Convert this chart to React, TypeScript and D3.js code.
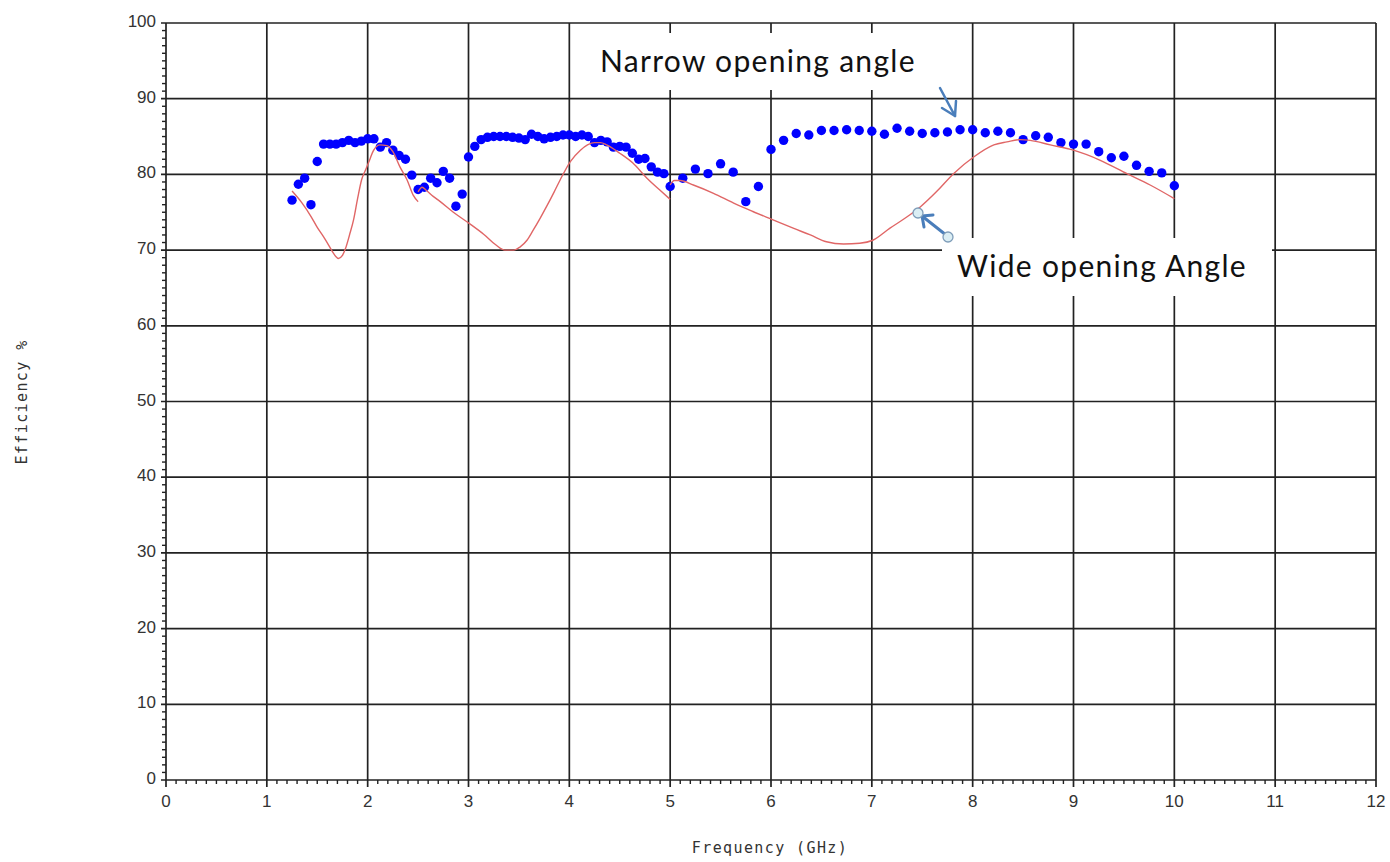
import React from "react";
import * as d3 from "d3";

// Measured efficiency, narrow opening angle (dots)
const narrowFreq = [
  1.25, 1.3125, 1.375, 1.4375, 1.5, 1.5625, 1.625, 1.6875, 1.75, 1.8125, 1.875, 1.9375,
  2.0, 2.0625, 2.125, 2.1875, 2.25, 2.3125, 2.375, 2.4375, 2.5, 2.5625, 2.625, 2.6875,
  2.75, 2.8125, 2.875, 2.9375, 3.0, 3.0625, 3.125, 3.1875, 3.25, 3.3125, 3.375, 3.4375,
  3.5, 3.5625, 3.625, 3.6875, 3.75, 3.8125, 3.875, 3.9375, 4.0, 4.0625, 4.125, 4.1875,
  4.25, 4.3125, 4.375, 4.4375, 4.5, 4.5625, 4.625, 4.6875, 4.75, 4.8125, 4.875, 4.9375,
  5.0, 5.125, 5.25, 5.375, 5.5, 5.625, 5.75, 5.875, 6.0, 6.125, 6.25, 6.375, 6.5, 6.625,
  6.75, 6.875, 7.0, 7.125, 7.25, 7.375, 7.5, 7.625, 7.75, 7.875, 8.0, 8.125, 8.25, 8.375,
  8.5, 8.625, 8.75, 8.875, 9.0, 9.125, 9.25, 9.375, 9.5, 9.625, 9.75, 9.875, 10.0,
];
const narrowEff = [
  76.6, 78.7, 79.5, 76.0, 81.7, 84.0, 84.0, 84.0, 84.2, 84.5, 84.2, 84.4,
  84.7, 84.7, 83.6, 84.2, 83.2, 82.5, 82.0, 79.9, 78.0, 78.3, 79.5, 78.9,
  80.4, 79.5, 75.8, 77.4, 82.3, 83.7, 84.6, 84.9, 85.0, 85.0, 85.0, 84.9,
  84.8, 84.6, 85.3, 85.0, 84.7, 84.9, 85.0, 85.2, 85.2, 85.0, 85.2, 85.0,
  84.2, 84.5, 84.3, 83.6, 83.7, 83.6, 82.8, 82.0, 82.1, 81.0, 80.3, 80.1,
  78.4, 79.5, 80.7, 80.1, 81.4, 80.3, 76.4, 78.4, 83.3, 84.5, 85.4, 85.2, 85.8, 85.8,
  85.9, 85.8, 85.7, 85.3, 86.1, 85.7, 85.4, 85.5, 85.6, 85.9, 85.9, 85.5, 85.7, 85.5,
  84.6, 85.1, 84.9, 84.2, 84.0, 84.0, 83.0, 82.2, 82.4, 81.2, 80.4, 80.2, 78.5,
];

// Wide opening angle (line), one trace per band
const wideBandAFreq = [1.25, 1.35, 1.44, 1.5, 1.56, 1.62, 1.66, 1.71, 1.75, 1.78, 1.82, 1.86, 1.9, 1.94, 1.98, 2.01, 2.06, 2.12, 2.19, 2.25, 2.32, 2.39, 2.45, 2.5];
const wideBandAEff = [77.8, 76.2, 74.4, 73.0, 71.8, 70.5, 69.6, 68.9, 69.3, 70.2, 72.0, 74.0, 76.8, 79.3, 80.6, 81.6, 83.2, 83.9, 83.8, 83.0, 81.0, 79.3, 77.3, 76.4];
const wideBandBFreq = [2.5, 2.54, 2.58, 2.65, 2.72, 2.85, 3.01, 3.15, 3.27, 3.36, 3.45, 3.51, 3.58, 3.64, 3.71, 3.78, 3.85, 3.91, 4.01, 4.11, 4.18, 4.25, 4.31, 4.37, 4.5, 4.63, 4.77, 4.9, 5.0];
const wideBandBEff = [77.7, 78.3, 77.9, 77.1, 76.4, 75.0, 73.5, 72.1, 70.7, 70.0, 70.0, 70.4, 71.3, 72.6, 74.2, 75.9, 77.7, 79.3, 81.7, 83.2, 83.9, 84.2, 84.2, 83.9, 82.8, 81.5, 79.5, 77.9, 76.7];
const wideBandCFreq = [5.0, 5.04, 5.1, 5.23, 5.43, 5.63, 5.82, 6.02, 6.22, 6.39, 6.55, 6.72, 6.88, 7.01, 7.18, 7.35, 7.48, 7.64, 7.81, 8.01, 8.21, 8.34, 8.47, 8.57, 8.77, 9.0, 9.26, 9.53, 9.76, 10.0];
const wideBandCEff = [78.6, 79.2, 79.2, 78.6, 77.5, 76.2, 75.1, 74.0, 72.9, 72.0, 71.1, 70.8, 70.9, 71.3, 72.9, 74.4, 75.7, 77.7, 80.1, 82.3, 83.9, 84.3, 84.6, 84.5, 83.9, 83.2, 81.9, 80.1, 78.6, 76.8];

const xTicks = [0, 1, 2, 3, 4, 5, 6, 7, 8, 9, 10, 11, 12];
const yTicks = [0, 10, 20, 30, 40, 50, 60, 70, 80, 90, 100];

const W = 1390;
const H = 862;
const x = d3.scaleLinear().domain([0, 12]).range([166, 1376]);
const y = d3.scaleLinear().domain([0, 100]).range([780, 23]);

const gridColor = "#222";
const tickFont = "'Liberation Sans', Arial, sans-serif";
const monoFont = "'DejaVu Sans Mono', monospace";
const noteFont = "Lato, 'Open Sans', sans-serif";
const arrowBlue = "#4a7ebb";

export default function App() {
  const line = d3
    .line<[number, number]>()
    .x((d) => x(d[0]))
    .y((d) => y(d[1]))
    .curve(d3.curveMonotoneX);

  const bands: [number[], number[]][] = [
    [wideBandAFreq, wideBandAEff],
    [wideBandBFreq, wideBandBEff],
    [wideBandCFreq, wideBandCEff],
  ];

  const yMinor = d3.range(0, 101).filter((v) => v % 10 !== 0);
  const xMinor = d3.range(0, 121).filter((v) => v % 10 !== 0).map((v) => v / 10);

  return (
    <svg
      width={W}
      height={H}
      style={{ position: "absolute", left: 0, top: 0, display: "block", background: "#fff" }}
    >
      {/* grid */}
      <g stroke={gridColor} strokeWidth={1.7}>
        {xTicks.map((t) => (
          <line key={"gx" + t} x1={x(t)} x2={x(t)} y1={y(100)} y2={y(0) + 7} />
        ))}
        {yTicks.map((t) => (
          <line key={"gy" + t} x1={x(0) - 5} x2={x(12)} y1={y(t)} y2={y(t)} />
        ))}
      </g>
      {/* minor ticks */}
      <g stroke={gridColor} strokeWidth={1.4}>
        {yMinor.map((v) => (
          <line key={"my" + v} x1={x(0) - 4} x2={x(0)} y1={y(v)} y2={y(v)} />
        ))}
        {xMinor.map((v) => (
          <line key={"mx" + v} x1={x(v)} x2={x(v)} y1={y(0)} y2={y(0) + 4} />
        ))}
      </g>
      {/* tick labels */}
      <g fontFamily={tickFont} fontSize={17} fill="#333">
        {yTicks.map((t) => (
          <text key={"ly" + t} x={x(0) - 10} y={y(t) + 4} textAnchor="end">
            {t}
          </text>
        ))}
        {xTicks.map((t) => (
          <text key={"lx" + t} x={x(t)} y={y(0) + 27} textAnchor="middle">
            {t}
          </text>
        ))}
      </g>
      {/* axis titles */}
      <text
        x={770}
        y={853}
        textAnchor="middle"
        fontFamily={monoFont}
        fontSize={15}
        letterSpacing={1.4}
        fill="#333"
      >
        Frequency (GHz)
      </text>
      <text
        transform="translate(27,402) rotate(-90)"
        textAnchor="middle"
        fontFamily={monoFont}
        fontSize={15}
        letterSpacing={1.4}
        fill="#333"
      >
        Efficiency %
      </text>

      {/* narrow opening angle points */}
      <g fill="#0000ff">
        {narrowFreq.map((f, i) => (
          <circle key={"p" + i} cx={x(f)} cy={y(narrowEff[i])} r={4.7} />
        ))}
      </g>

      {/* wide opening angle trace */}
      <g fill="none" stroke="#e06666" strokeWidth={1.4}>
        {bands.map(([fs, es], i) => (
          <path key={"b" + i} d={line(fs.map((f, j) => [f, es[j]] as [number, number])) || ""} />
        ))}
      </g>

      {/* annotations */}
      <rect x={588} y={33} width={377} height={57} fill="#fff" />
      <text x={600} y={72} fontFamily={noteFont} fontSize={30} letterSpacing={1.3} fill="#111">
        Narrow opening angle
      </text>
      <g stroke={arrowBlue} strokeWidth={2.5} fill="none" strokeLinecap="round" strokeLinejoin="round">
        <line x1={940} y1={88} x2={955} y2={116} />
        <polyline points="942,108 955,116 956,101" />
      </g>

      <rect x={942} y={238} width={330} height={58} fill="#fff" />
      <text x={957} y={277} fontFamily={noteFont} fontSize={30} letterSpacing={1.3} fill="#111">
        Wide opening Angle
      </text>
      <g stroke={arrowBlue} strokeWidth={3} fill="none" strokeLinecap="round" strokeLinejoin="round">
        <line x1={946} y1={235} x2={922} y2={216} />
        <polyline points="933,215 922,216 924,227" />
      </g>
      <circle cx={918} cy={213} r={5} fill="#dbeef4" stroke="#7f9db9" strokeWidth={1.3} />
      <circle cx={948} cy={237} r={5} fill="#dbeef4" stroke="#7f9db9" strokeWidth={1.3} />
    </svg>
  );
}
